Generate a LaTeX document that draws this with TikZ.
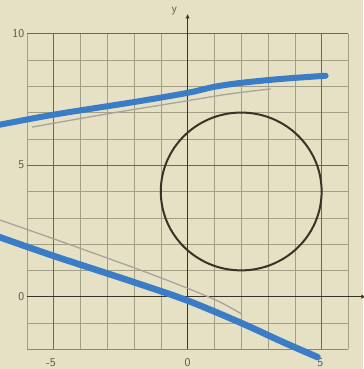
\documentclass[tikz,border=0pt]{standalone}
\usepackage{xcolor}
\usepackage{tikz}
\usetikzlibrary{arrows.meta}
\definecolor{paper}{HTML}{E6E0C4}
\definecolor{gridline}{HTML}{A39E86}
\definecolor{inkdark}{HTML}{3A3328}
\definecolor{marker}{HTML}{3A7CC6}
\definecolor{pencil}{HTML}{A7A49A}
\definecolor{labelgray}{HTML}{5A554C}

\begin{document}
\begin{tikzpicture}[x=26.8pt,y=26.3pt,>=Latex,
    ticklabel/.style={font=\sffamily\large,text=labelgray,inner sep=1pt}]
  \fill[paper] (-7,-2.75) rectangle (6.55,11.28);
  \useasboundingbox (-7,-2.75) rectangle (6.55,11.28);
  % grid
  \foreach \x in {-6,...,6} {\draw[gridline,line width=0.5pt] (\x,-2) -- (\x,10);}
  \foreach \y in {-2,...,10} {\draw[gridline,line width=0.5pt] (-6,\y) -- (6,\y);}
  \foreach \x in {-5,5} {\draw[inkdark!75,line width=0.9pt] (\x,-2) -- (\x,10);}
  \foreach \y in {5,10} {\draw[inkdark!75,line width=0.9pt] (-6,\y) -- (6,\y);}
  \draw[inkdark!60,line width=0.7pt] (-6,-2) -- (6,-2);
  % axes
  \draw[inkdark,line width=1.1pt,-{Latex[length=4.5pt,width=4.5pt]}] (-6,0) -- (6.65,0);
  \draw[inkdark,line width=1.1pt,-{Latex[length=4.5pt,width=4.5pt]}] (0,-2) -- (0,10.75);
  \node[ticklabel,anchor=east] (ten) at (-6.05,10) {10};
  \node[ticklabel,anchor=east] (five) at (-6.05,5) {5};
  \node[ticklabel,anchor=east] (zero) at (-6.05,0) {0};
  \node[ticklabel] (xmfive) at (-5.1,-2.5) {-5};
  \node[ticklabel] (xzero) at (0,-2.5) {0};
  \node[ticklabel] (xfive) at (4.95,-2.5) {5};
  \node[ticklabel] (ylab) at (-0.5,10.85) {y};
  % pencil lines
  \draw[pencil,line width=1.3pt] plot[smooth] coordinates {(-5.8,6.45) (-3,6.95) (0,7.45) (1.5,7.7) (3.1,7.9)};
  \draw[pencil,line width=1.3pt] plot[smooth] coordinates {(-7.1,2.95) (-5,2.2) (-2,1.1) (0,0.32) (1.2,-0.2) (2,-0.65)};
  % marker lines
  \draw[marker,line width=6pt,line cap=round] plot[smooth] coordinates {(-7.2,6.5) (-5,6.92) (-2,7.4) (0,7.75) (1,7.98) (2,8.13) (3.5,8.28) (5.15,8.4)};
  \draw[marker,line width=6.5pt,line cap=round] plot[smooth] coordinates {(-7.2,2.33) (-5,1.55) (-2,0.55) (0,-0.15) (2,-1.0) (3.5,-1.7) (4.85,-2.3)};
  % circle
  \draw[inkdark,line width=2pt] (2,4) circle (3);
\end{tikzpicture}
\end{document}
